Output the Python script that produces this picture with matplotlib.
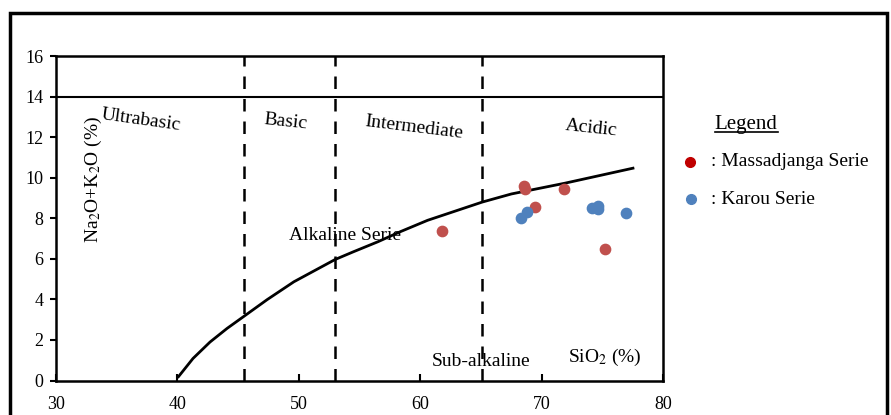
import matplotlib.pyplot as plt
from matplotlib.patches import Rectangle
from matplotlib.lines import Line2D

plt.rcParams['font.family'] = ['Liberation Serif', 'DejaVu Serif']
plt.rcParams['mathtext.fontset'] = 'stix'

# alkaline / sub-alkaline boundary
curve_x = [40.1, 41.3, 42.7, 44.1, 45.45, 47.4, 49.6, 53.0, 54.5, 56.5, 58.4,
           60.6, 62.8, 65.1, 67.5, 71.9, 77.5]
curve_y = [0.19, 1.09, 1.9, 2.57, 3.15, 3.99, 4.87, 5.97, 6.35, 6.84, 7.35,
           7.9, 8.34, 8.8, 9.2, 9.73, 10.47]

divisions = [45.5, 53, 65.1]

mass_sio2 = [61.8, 68.5, 68.6, 69.4, 71.8, 75.2]
mass_alk = [7.35, 9.6, 9.45, 8.58, 9.45, 6.5]
karou_sio2 = [68.3, 68.8, 74.1, 74.6, 74.6, 76.9]
karou_alk = [8.0, 8.3, 8.53, 8.6, 8.44, 8.25]

fig = plt.figure(figsize=(8.91, 4.15), dpi=100)
fig.patches.append(Rectangle((0.011, -0.05), 0.984, 1.019, transform=fig.transFigure,
                             fill=False, lw=2.5, ec='black'))

ax = fig.add_axes([0.0625, 0.083, 0.682, 0.782])
ax.set_xlim(30, 80)
ax.set_ylim(0, 16)
for s in ax.spines.values():
    s.set_linewidth(1.8)
ax.set_xticks(range(30, 81, 10))
ax.set_yticks(range(0, 17, 2))
ax.tick_params(axis='x', direction='in', length=5, width=1.5, pad=11, labelsize=13)
ax.tick_params(axis='y', direction='out', length=4, width=1.5, pad=5, labelsize=13)

ax.axhline(14, color='black', lw=1.5)
for d in divisions:
    ax.axvline(d, color='black', lw=1.8, ls=(0, (5, 4)))
ax.plot(curve_x, curve_y, color='black', lw=2)

ax.scatter(mass_sio2, mass_alk, s=55, color='#C0504D', zorder=3)
ax.scatter(karou_sio2, karou_alk, s=55, color='#4F81BD', zorder=3)

ax.text(37.0, 12.85, 'Ultrabasic', fontsize=14, rotation=-8, ha='center', va='center')
ax.text(48.9, 12.75, 'Basic', fontsize=14, rotation=-6, ha='center', va='center')
ax.text(59.5, 12.45, 'Intermediate', fontsize=14, rotation=-7, ha='center', va='center')
ax.text(74.1, 12.45, 'Acidic', fontsize=14, rotation=-6, ha='center', va='center')
ax.text(53.8, 7.15, 'Alkaline Serie', fontsize=14, ha='center', va='center')
ax.text(65.0, 0.94, 'Sub-alkaline', fontsize=14, ha='center', va='center')
ax.text(75.2, 1.13, 'SiO$_2$ (%)', fontsize=14, ha='center', va='center')
ax.text(33.1, 9.9, 'Na$_2$O+K$_2$O (%)', fontsize=14, rotation=90, ha='center', va='center')

# hand-made legend to the right
fig.text(0.837, 0.699, 'Legend', fontsize=15, ha='center', va='center')
fig.add_artist(Line2D([0.802, 0.873], [0.683, 0.683], color='black', lw=1.2,
                      transform=fig.transFigure))
fig.add_artist(Line2D([0.774], [0.61], marker='o', ms=7, color='#C00000', ls='none',
                      transform=fig.transFigure))
fig.add_artist(Line2D([0.775], [0.52], marker='o', ms=7, color='#4F81BD', ls='none',
                      transform=fig.transFigure))
fig.text(0.798, 0.61, ': Massadjanga Serie', fontsize=14, ha='left', va='center')
fig.text(0.798, 0.52, ': Karou Serie', fontsize=14, ha='left', va='center')

fig.savefig('out.png', dpi=100)
